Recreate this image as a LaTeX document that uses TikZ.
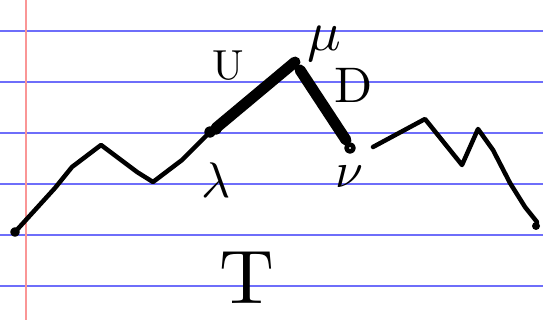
\documentclass[tikz,border=0pt]{standalone}
\usepackage{amsmath,amssymb}
\usepackage{tikz}
\usetikzlibrary{positioning}
\usepackage{xcolor}
\definecolor{ruleblue}{RGB}{110,110,250}
\definecolor{marginred}{RGB}{250,150,150}

\begin{document}
\begin{tikzpicture}[x=1pt,y=-1pt,line join=round,line cap=round,
  pen/.style={line width=4.5pt},
  bold/.style={line width=11pt},
  rule/.style={ruleblue,line width=1.5pt},
  lbl/.style={inner sep=0pt}]
\useasboundingbox[fill=white] (0,0) rectangle (543,320);
\foreach \y in {31,82,133,184,235,286} \draw[rule] (0,\y) -- (543,\y);
\draw[marginred,line width=1.5pt] (26,0) -- (26,320);
\coordinate (start) at (15,232);
\coordinate (lam) at (210,132);
\coordinate (top) at (295,62);
\coordinate (low) at (350,148);
\coordinate (stop) at (536,226);
\draw[pen] (start) -- (55,188) -- (72,167) -- (101,145) -- (137,172) -- (153,182) -- (182,160) -- (lam);
\draw[bold] (216,128) -- (top);
\draw[bold] (300,70) -- (346,140);
\draw[pen] (lam) circle (3.5pt) (216,129) circle (3.5pt) (low) circle (3.5pt) (start) circle (2.5pt);
\draw[pen] (373,147) -- (425,119) -- (462,165) -- (478,129) -- (493,150) -- (510,183) -- (525,207) -- (537,222) -- (stop);
\fill (stop) circle (4pt);
\node[lbl,scale=4.2] (U) at (228,66) {U};
\node[lbl,scale=5.6] (M) at (324,44) {$\mu$};
\node[lbl,scale=5] (D) at (354,85) {D};
\node[lbl,scale=5] (L) at (216,180) {$\lambda$};
\node[lbl,scale=5] (V) at (349,177) {$\nu$};
\node[lbl,scale=7.6] (T) at (247,278) {T};
\end{tikzpicture}
\end{document}
